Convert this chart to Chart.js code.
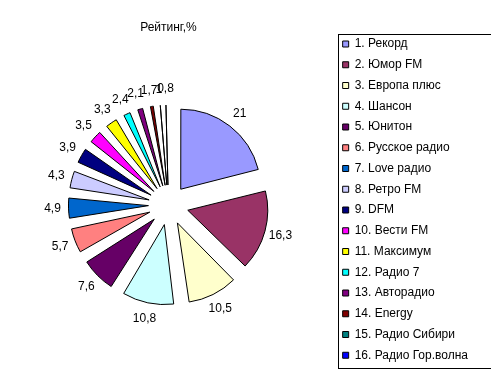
<!DOCTYPE html>
<html>
<head>
<meta charset="utf-8">
<script src="https://cdn.jsdelivr.net/npm/chart.js@4.4.0/dist/chart.umd.min.js"></script>
<style>
    html, body { margin: 0; padding: 0; background: #fff; }
</style>
</head>
<body>
<canvas id="myChart" width="491" height="374"></canvas>
<script>
const stations = [
    '1. Рекорд', '2. Юмор FM', '3. Европа плюс', '4. Шансон',
    '5. Юнитон', '6. Русское радио', '7. Love радио', '8. Ретро FM',
    '9. DFM', '10. Вести FM', '11. Максимум', '12. Радио 7',
    '13. Авторадио', '14. Energy', '15. Радио Сибири', '16. Радио Гор.волна'
];
const ratings = [21, 16.3, 10.5, 10.8, 7.6, 5.7, 4.9, 4.3, 3.9, 3.5, 3.3, 2.4, 2.1, 1.7, 1, 0.8];
const sliceColors = [
    '#9999FF', '#993366', '#FFFFCC', '#CCFFFF', '#660066', '#FF8080', '#0066CC', '#CCCCFF',
    '#000080', '#FF00FF', '#FFFF00', '#00FFFF', '#800080', '#800000', '#008080', '#0000FF'
];

const PIE_RADIUS = 80;
const EXPLODE = 80; // chart.js moves the slice by offset / 4

Chart.defaults.font.family = '"Liberation Sans", Arial, sans-serif';
Chart.defaults.font.size = 12;
Chart.defaults.color = '#000';

const formatValue = v => String(v).replace('.', ',');

// chart.js makes thin slices longer when they are offset, keep them all the same size
const explodeFix = {
    id: 'explodeFix',
    afterDatasetUpdate(chart, args) {
        args.meta.data.forEach(arc => {
            const fix = 1 - Math.sin(Math.min(Math.PI, arc.circumference));
            arc.outerRadius = PIE_RADIUS - (EXPLODE / 4) * fix;
        });
    }
};

const valueLabels = {
    id: 'valueLabels',
    afterDatasetsDraw(chart) {
        const ctx = chart.ctx;
        const meta = chart.getDatasetMeta(0);
        ctx.save();
        ctx.font = '12px "Liberation Sans", Arial, sans-serif';
        ctx.fillStyle = '#000';
        ctx.textAlign = 'center';
        ctx.textBaseline = 'middle';
        meta.data.forEach((arc, i) => {
            const mid = (arc.startAngle + arc.endAngle) / 2;
            const r = PIE_RADIUS + EXPLODE / 4 + 16;
            ctx.fillText(formatValue(ratings[i]), arc.x + Math.cos(mid) * r, arc.y + Math.sin(mid) * r);
        });
        ctx.restore();
    }
};

const legendFrame = {
    id: 'legendFrame',
    afterDraw(chart) {
        const boxes = chart.legend.legendHitBoxes;
        if (!boxes.length) {
            return;
        }
        const first = boxes[0];
        const last = boxes[boxes.length - 1];
        const ctx = chart.ctx;
        ctx.save();
        ctx.strokeStyle = '#000';
        ctx.lineWidth = 1;
        const x = Math.round(first.left - 5) + 0.5;
        const y = Math.round(first.top - 4) + 0.5;
        const bottom = Math.round(last.top + last.height + 7) + 0.5;
        ctx.strokeRect(x, y, chart.width, bottom - y);
        ctx.restore();
    }
};

const ctx = document.getElementById('myChart').getContext('2d');
new Chart(ctx, {
    type: 'pie',
    data: {
        labels: stations,
        datasets: [{
            data: ratings,
            backgroundColor: sliceColors,
            borderColor: '#000',
            borderWidth: 1,
            offset: EXPLODE,
            hoverOffset: 0,
        }]
    },
    options: {
        responsive: false,
        animation: false,
        radius: PIE_RADIUS,
        layout: { padding: { left: 3, right: 13, top: 0, bottom: 4 } },
        plugins: {
            title: {
                display: true,
                text: 'Рейтинг,%',
                fullSize: false,
                color: '#000',
                font: { size: 12, weight: 'normal' },
                padding: { top: 20, bottom: 5.6 },
            },
            legend: {
                position: 'right',
                align: 'end',
                labels: {
                    boxWidth: 6,
                    boxHeight: 6,
                    padding: 8.75,
                    color: '#000',
                    font: { size: 12 },
                },
            },
            tooltip: { enabled: false },
        },
    },
    plugins: [explodeFix, valueLabels, legendFrame],
});
</script>
</body>
</html>
